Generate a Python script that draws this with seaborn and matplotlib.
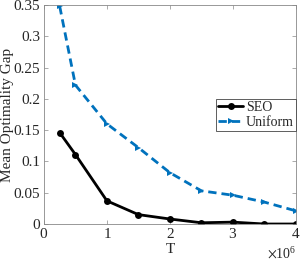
import pandas as pd
import seaborn as sns
import matplotlib.pyplot as plt
import matplotlib.ticker as mticker

T = [0.25e6, 0.5e6, 1e6, 1.5e6, 2e6, 2.5e6, 3e6, 3.5e6, 4e6]
seo = [0.146, 0.111, 0.037, 0.015, 0.008, 0.002, 0.003, 0.0, 0.0]
uniform = [0.348, 0.222, 0.160, 0.122, 0.082, 0.053, 0.046, 0.035, 0.021]

sns.set_theme(style="ticks")
plt.rcParams["font.family"] = ["Liberation Serif", "DejaVu Serif"]
plt.rcParams["mathtext.fontset"] = "stix"

df = pd.DataFrame({
    "T": T * 2,
    "gap": seo + uniform,
    "method": ["SEO"] * len(T) + ["Uniform"] * len(T),
})

fig = plt.figure(figsize=(3.01, 2.62), dpi=100)
ax = fig.add_axes([0.146, 0.145, 0.837, 0.836])

sns.lineplot(
    data=df, x="T", y="gap", hue="method", style="method",
    palette={"SEO": "black", "Uniform": "#0072BD"},
    dashes={"SEO": "", "Uniform": (3, 1.8)},
    markers={"SEO": "o", "Uniform": ">"},
    markersize=5, markeredgewidth=0, linewidth=2, ax=ax,
)

ax.set_xlim(0, 4e6)
ax.set_ylim(0, 0.35)
ax.set_yticks([0, 0.05, 0.1, 0.15, 0.2, 0.25, 0.3, 0.35])
ax.set_yticklabels(["0", "0.05", "0.1", "0.15", "0.2", "0.25", "0.3", "0.35"])
fmt = mticker.ScalarFormatter(useMathText=True)
fmt.set_powerlimits((0, 0))
ax.xaxis.set_major_formatter(fmt)
ax.set_xticks([0, 1e6, 2e6, 3e6, 4e6])
ax.xaxis.get_offset_text().set_fontsize(10)

ax.tick_params(direction="in", top=True, right=True, labelsize=11,
               length=3, width=0.5, color="#888888", pad=2.5)
for s in ax.spines.values():
    s.set_color("#888888")
    s.set_linewidth(0.6)

ax.set_xlabel("T", fontsize=11, labelpad=1)
ax.set_ylabel("Mean Optimality Gap", fontsize=11, labelpad=0)

leg = ax.legend(loc="upper right", bbox_to_anchor=(1.0, 0.572),
                prop={"family": "Liberation Serif", "size": 10},
                frameon=True, fancybox=False, handlelength=1.8,
                handletextpad=0.2, borderpad=0.15, labelspacing=0.15,
                borderaxespad=0, framealpha=1)
leg.get_frame().set_edgecolor("#444444")
leg.get_frame().set_linewidth(0.6)

fig.savefig("out.png", dpi=100)
